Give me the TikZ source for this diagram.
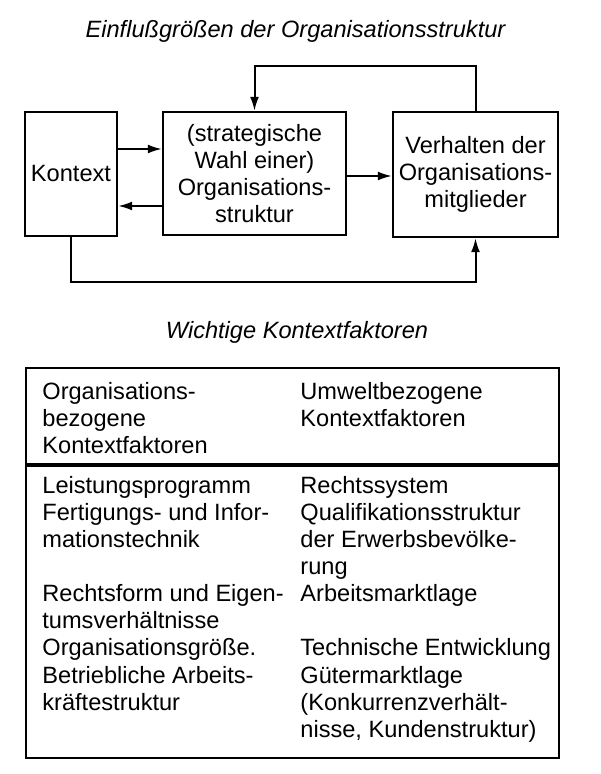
\documentclass[tikz,border=0pt]{standalone}
\usepackage{fontspec}
\setmainfont{Liberation Sans}
\usetikzlibrary{arrows.meta}

\newcommand{\schrift}{\fontsize{11.8}{13.55}\selectfont}

\begin{document}
\begin{tikzpicture}[x = 0.5pt, y = -0.5pt,
		every node/.append style = {font = \schrift},
		box/.style = {draw, line width = 1.2pt, align = center, inner sep = 0pt},
		pfeil/.style = {line width = 1pt, -{Latex[length = 7pt, width = 4.5pt]}},
		titel/.style = {font = \schrift\itshape, anchor = base},
		zelle/.style = {anchor = north west, align = left, inner sep = 0pt}]
	\useasboundingbox (0, 0) rectangle (600, 774);

	% Nodes
	\node[titel] (titel1) at (295.5, 38) {Einflußgrößen der Organisationsstruktur};
	\node[box, minimum width = 46pt, minimum height = 62pt] (kontext) at (71, 174) {Kontext};
	\node[box, minimum width = 91.5pt, minimum height = 61.5pt] (struktur) at (254.5, 173.5)
		{(strategische\\Wahl einer)\\Organisations-\\struktur};
	\node[box, minimum width = 82.5pt, minimum height = 62.5pt] (verhalten) at (475.5, 174.5)
		{Verhalten der\\Organisations-\\mitglieder};

	\coordinate (oben) at (0, 66);
	\coordinate (hin) at (0, 149);
	\coordinate (mitte) at (0, 176);
	\coordinate (rueck) at (0, 206);
	\coordinate (unten) at (0, 282);

	% Edges
	\draw[pfeil] (kontext.east |- hin) -- (struktur.west |- hin);
	\draw[pfeil] (struktur.west |- rueck) -- (kontext.east |- rueck);
	\draw[pfeil] (struktur.east |- mitte) -- (verhalten.west |- mitte);
	\draw[pfeil] (verhalten.north) -- (verhalten.north |- oben) -| (struktur.north);
	\draw[pfeil] (kontext.south) -- (kontext.south |- unten) -| (verhalten.south);

	% Table
	\node[titel] (titel2) at (297, 338) {Wichtige Kontextfaktoren};
	\node[draw, line width = 1pt, inner sep = 0pt, minimum width = 266.5pt, minimum height = 195pt]
		(tabelle) at (292.5, 563) {};
	\coordinate (trenn) at (0, 465);
	\draw[line width = 1.6pt] (tabelle.west |- trenn) -- (tabelle.east |- trenn);

	\node[zelle] (kopflinks) at (42, 380)
		{\strut Organisations-\\bezogene\\Kontextfaktoren};
	\node[zelle] (kopfrechts) at (300, 380)
		{\strut Umweltbezogene\\Kontextfaktoren};
	\node[zelle] (links) at (42, 474)
		{\strut Leistungsprogramm\\Fertigungs- und Infor-\\mationstechnik\\[13.55pt]
		Rechtsform und Eigen-\\tumsverhältnisse\\Organisationsgröße.\\Betriebliche Arbeits-\\kräftestruktur};
	\node[zelle] (rechts) at (300, 474)
		{\strut Rechtssystem\\Qualifikationsstruktur\\der Erwerbsbevölke-\\rung\\Arbeitsmarktlage\\[13.55pt]
		Technische Entwicklung\\Gütermarktlage\\(Konkurrenzverhält-\\nisse, Kundenstruktur)};
\end{tikzpicture}
\end{document}
